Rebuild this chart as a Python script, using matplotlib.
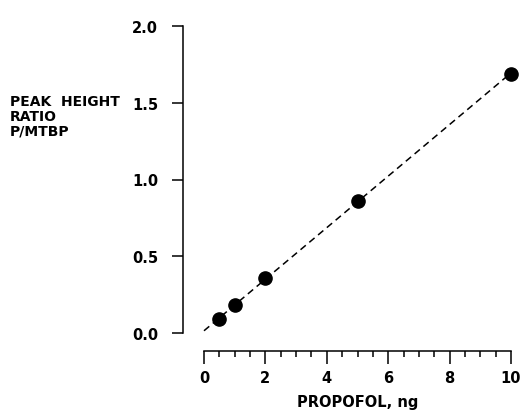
import numpy as np
import matplotlib
matplotlib.use("Agg")
import matplotlib.pyplot as plt
from matplotlib.ticker import MultipleLocator

# propofol amount (ng) vs peak height ratio P/MTBP
propofol_ng = [0.5, 1.0, 2.0, 5.0, 10.0]
peak_ratio = [0.09, 0.18, 0.36, 0.86, 1.69]

y_ticks = [0.0, 0.5, 1.0, 1.5, 2.0]
x_ticks = [0, 2, 4, 6, 8, 10]

plt.rcParams['font.family'] = ['DejaVu Sans']
plt.rcParams['font.weight'] = 'bold'

fig = plt.figure(figsize=(5.24, 4.14), dpi=100)
ax = fig.add_axes([204 / 524, 80 / 414, 307 / 524, 307 / 414])

# least squares line through the standards
slope, intercept = np.polyfit(propofol_ng, peak_ratio, 1)
xs = np.array([0.0, 10.0])
ax.plot(xs, slope * xs + intercept, color='black', lw=1.1,
        dashes=(4.5, 3), clip_on=False)
ax.plot(propofol_ng, peak_ratio, 'o', color='black', ms=9.5, clip_on=False)

ax.set_xlim(0, 10)
ax.set_ylim(0, 2.0)

for s in ['top', 'right']:
    ax.spines[s].set_visible(False)
ax.spines['left'].set_position(('outward', 15))
ax.spines['bottom'].set_position(('outward', 13))
ax.spines['left'].set_bounds(0, 2.0)
ax.spines['bottom'].set_bounds(0, 10)
for s in ['left', 'bottom']:
    ax.spines[s].set_linewidth(1.1)

ax.set_yticks(y_ticks)
ax.set_yticklabels([f"{v:.1f}" for v in y_ticks])
ax.set_xticks(x_ticks)
ax.set_xticklabels([str(v) for v in x_ticks])
ax.xaxis.set_minor_locator(MultipleLocator(0.5))

ax.tick_params(axis='y', direction='out', length=8, width=1.1, pad=10,
               labelsize=10.5)
ax.tick_params(axis='x', which='major', direction='out', length=9, width=1.1,
               pad=5, labelsize=10.5)
ax.tick_params(axis='x', which='minor', direction='out', length=4.5, width=1.1)

ax.set_xlabel('PROPOFOL, ng', fontsize=10.5, fontweight='bold', labelpad=6)
fig.text(10 / 524, 1 - 95 / 414, 'PEAK  HEIGHT\nRATIO\nP/MTBP',
         ha='left', va='top', fontsize=10, fontweight='bold',
         linespacing=1.05)

fig.savefig('out.png', dpi=100)
